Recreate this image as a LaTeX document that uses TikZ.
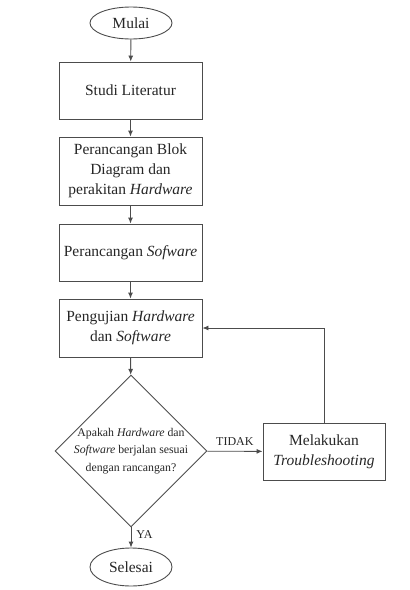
\documentclass[tikz,border=0pt]{standalone}
\usepackage{fontspec}
\setmainfont{Liberation Serif}
\usetikzlibrary{shapes.geometric,arrows.meta}
\begin{document}
\begin{tikzpicture}[x=1pt,y=-1pt,
  line width=0.9pt,
  every node/.style={text=black!85},
  proc/.style={draw=black!70,rectangle,minimum width=143pt,inner sep=0pt,align=center,font=\fontsize{15.5}{20}\selectfont},
  term/.style={draw=black!70,ellipse,minimum width=82pt,inner sep=0pt,align=center,font=\fontsize{15.5}{20}\selectfont},
  dec/.style={draw=black!70,diamond,aspect=1,minimum width=152pt,minimum height=152pt,inner sep=0pt},
  dectext/.style={align=center,inner sep=0pt,font=\fontsize{11.8}{17.5}\selectfont,text=black!85},
  lbl/.style={font=\fontsize{12}{14}\selectfont,inner sep=0pt},
  arr/.style={draw=black!70,-{Latex[length=6pt,width=5pt]}}
]
\useasboundingbox (0,0) rectangle (410,590);
\node[term,minimum height=32pt] (mulai) at (131,23) {Mulai};
\node[proc,minimum height=57pt] (studi) at (130.5,90.5) {Studi Literatur};
\node[proc,minimum height=68pt] (blok) at (130.5,171) {\fontsize{15.5}{21.5}\selectfont Perancangan Blok\\Diagram dan\\perakitan \textit{Hardware}};
\node[proc,minimum height=57pt] (sof) at (130.5,252.5) {Perancangan \textit{Sofware}};
\node[proc,minimum height=58pt] (uji) at (130.5,328) {Pengujian \textit{Hardware}\\dan \textit{Software}};
\node[dec,label={[dectext]center:{Apakah \textit{Hardware} dan\\\textit{Software} berjalan sesuai\\dengan rancangan?}}] (cek) at (131,451) {};
\node[proc,minimum width=122pt,minimum height=57pt] (trb) at (324,451.5) {Melakukan\\\textit{Troubleshooting}};
\node[term,minimum height=38pt] (selesai) at (131,567) {Selesai};
\coordinate (fb) at (trb.north |- uji.east);
\draw[arr] (mulai) -- (studi);
\draw[arr] (studi) -- (blok);
\draw[arr] (blok) -- (sof);
\draw[arr] (sof) -- (uji);
\draw[arr] (uji) -- (cek);
\draw[arr] (cek) -- node[lbl,above=5pt] (tidak) {TIDAK} (trb);
\draw[arr] (cek) -- node[lbl,right=5pt,pos=0.35] (ya) {YA} (selesai);
\draw[arr] (trb.north) -- (fb) -- (uji.east);
\end{tikzpicture}
\end{document}
